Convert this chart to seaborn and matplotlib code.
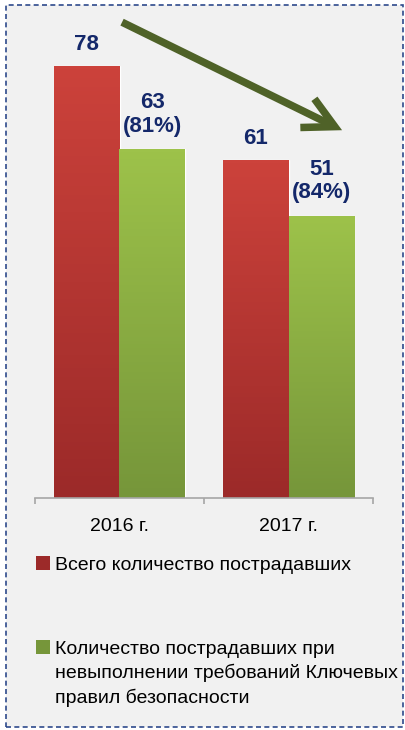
import matplotlib
matplotlib.use("Agg")
import matplotlib.pyplot as plt
import numpy as np
import pandas as pd
import seaborn as sns
from matplotlib import font_manager
from matplotlib.colors import LinearSegmentedColormap
from matplotlib.patches import Rectangle

years = ["2016 г.", "2017 г."]
series = ["Всего количество пострадавших",
          "Количество пострадавших при\nневыполнении требований Ключевых\nправил безопасности"]
total = [78, 61]
violations = [63, 51]
shares = ["81%", "84%"]

RED_TOP, RED_BOTTOM = "#cc423b", "#9c2a29"
GREEN_TOP, GREEN_BOTTOM = "#9dc24a", "#76963a"
LABEL_COLOR = "#14286a"
ARROW_COLOR = "#4f6228"

sns.set_theme(style="white")
installed = {f.name for f in font_manager.fontManager.ttflist}
family = ["Liberation Sans Narrow"] if "Liberation Sans Narrow" in installed else ["Liberation Sans"]
plt.rcParams["font.family"] = family + ["DejaVu Sans"]

df = pd.DataFrame({
    "year": years * 2,
    "series": [series[0]] * 2 + [series[1]] * 2,
    "value": total + violations,
})

W, H = 405, 730
fig = plt.figure(figsize=(W / 100, H / 100), dpi=100)
fig.patch.set_facecolor("white")

# dashed frame around the whole picture (behind the axes)
fig.patches.append(Rectangle((6 / W, 1 - 727 / H), 397 / W, 722 / H,
                             transform=fig.transFigure, facecolor="#f1f1f1",
                             edgecolor="#2e4a8c", lw=1.2, ls=(0, (3, 2)), zorder=-5))

ax = fig.add_axes([35 / W, 1 - 498 / H, 338 / W, 488 / H])
ax.set_facecolor("none")
ax.set_zorder(1)
sns.barplot(data=df, x="year", y="value", hue="series", hue_order=series,
            palette=[RED_TOP, GREEN_TOP], width=0.78, gap=0, legend=False,
            saturation=1, ax=ax)

# vertical gradient fill clipped to each bar
grad = np.linspace(0, 1, 100).reshape(-1, 1)
for cont, (top, bottom) in zip(ax.containers, [(RED_TOP, RED_BOTTOM), (GREEN_TOP, GREEN_BOTTOM)]):
    cmap = LinearSegmentedColormap.from_list("g", [bottom, top])
    for bar in cont:
        x0, w, h = bar.get_x(), bar.get_width(), bar.get_height()
        im = ax.imshow(grad, extent=[x0, x0 + w, 0, h], origin="lower", aspect="auto",
                       cmap=cmap, zorder=bar.get_zorder() + 0.1)
        im.set_clip_path(bar)

ax.set_xlim(-0.5, 1.5)
ax.set_ylim(0, 88.1)

# value labels
for bar, v in zip(ax.containers[0], total):
    ax.annotate(str(v), (bar.get_x() + bar.get_width() / 2, bar.get_height()),
                xytext=(0, 8), textcoords="offset points", ha="center", va="bottom",
                fontsize=16, fontweight="bold", color=LABEL_COLOR)
for bar, v, s in zip(ax.containers[1], violations, shares):
    ax.annotate(f"{v}\n({s})", (bar.get_x() + bar.get_width() / 2, bar.get_height()),
                xytext=(0, 9), textcoords="offset points", ha="center", va="bottom",
                fontsize=16, fontweight="bold", color=LABEL_COLOR, linespacing=1.15)

# trend arrow
ax.annotate("", xy=(1.317, 66.4), xytext=(0.015, 85.9), annotation_clip=False,
            arrowprops=dict(arrowstyle="->,head_length=2.2,head_width=1.15",
                            color=ARROW_COLOR, lw=5.4, shrinkA=0, shrinkB=0,
                            mutation_scale=10, capstyle="butt", joinstyle="miter"))

for side in ["top", "left", "right"]:
    ax.spines[side].set_visible(False)
ax.spines["bottom"].set_color("#a6a6a6")
ax.spines["bottom"].set_linewidth(1.2)
ax.set_yticks([])
ax.set_xticks([-0.5, 0.5, 1.5])
ax.set_xticklabels([])
ax.set_xticks([0, 1], minor=True)
ax.set_xticklabels(years, minor=True)
ax.tick_params(axis="x", which="major", direction="out", length=4, width=1.2,
               color="#a6a6a6", bottom=True)
ax.tick_params(axis="x", which="minor", length=0, pad=14.5, labelsize=14, labelcolor="black")
ax.set_xlabel("")
ax.set_ylabel("")

# legend
for (top, bottom), label, ytop in zip([(RED_TOP, RED_BOTTOM), (GREEN_TOP, GREEN_BOTTOM)],
                                      series, [556, 640]):
    fig.patches.append(Rectangle((36 / W, 1 - (ytop + 14) / H), 14 / W, 14 / H,
                                 transform=fig.transFigure, facecolor=bottom,
                                 edgecolor="none", zorder=3))
    fig.text(55 / W, 1 - (ytop + 1) / H, label, ha="left", va="top", fontsize=14,
             color="black", linespacing=1.42)

fig.savefig("out.png", dpi=100)
